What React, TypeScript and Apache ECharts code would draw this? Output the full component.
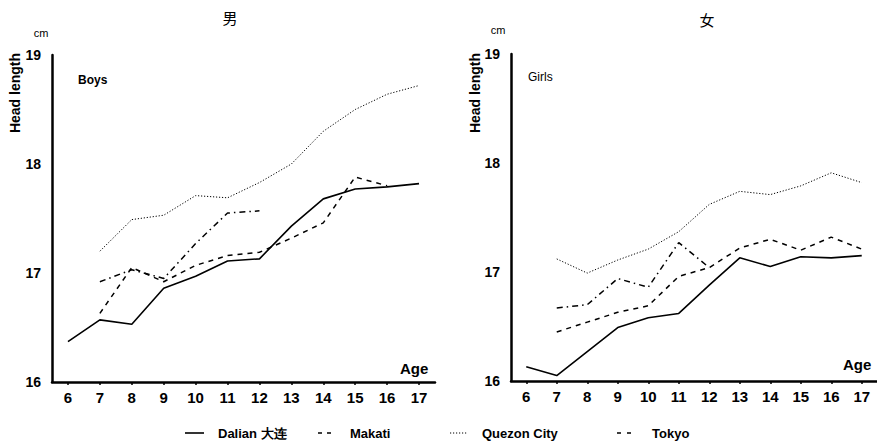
import React, { useEffect, useRef } from "react";
import * as echarts from "echarts";

const ages = ["6", "7", "8", "9", "10", "11", "12", "13", "14", "15", "16", "17"];
const yTicks = [16, 17, 18, 19];

// Boys
const boysDalian = [16.37, 16.57, 16.53, 16.86, 16.97, 17.11, 17.13, 17.43, 17.68, 17.77, 17.79, 17.82];
const boysMakati = [null, 16.92, 17.03, 16.95, 17.27, 17.55, 17.57, null, null, null, null, null];
const boysQuezon = [null, 17.2, 17.49, 17.53, 17.71, 17.69, 17.83, 18.0, 18.3, 18.5, 18.64, 18.72];
const boysTokyo = [null, 16.63, 17.05, 16.92, 17.07, 17.16, 17.19, 17.32, 17.46, 17.88, 17.8, null];

// Girls
const girlsDalian = [16.13, 16.05, 16.27, 16.49, 16.58, 16.62, 16.88, 17.13, 17.05, 17.14, 17.13, 17.15];
const girlsMakati = [null, 16.67, 16.7, 16.94, 16.86, 17.27, 17.04, null, null, null, null, null];
const girlsQuezon = [null, 17.12, 16.99, 17.11, 17.21, 17.37, 17.62, 17.74, 17.71, 17.79, 17.91, 17.82];
const girlsTokyo = [null, 16.45, 16.54, 16.63, 16.69, 16.96, 17.04, 17.22, 17.3, 17.2, 17.32, 17.21];

const seriesNames = ["Dalian 大连", "Makati", "Quezon City", "Tokyo"];

const FONT = "'Liberation Sans', Arial, sans-serif";
const CJK = "'Noto Sans CJK SC', sans-serif";

const styles: any[] = [
  { type: "solid", width: 1.6 },
  { type: [6, 4, 1.5, 4], width: 1.5 },
  { type: [1.2, 1.8], width: 1 },
  { type: [5, 5], width: 1.5 },
];

export default function App() {
  const ref = useRef<HTMLDivElement>(null);
  useEffect(() => {
    document.body.style.margin = "0";
    const chart = echarts.init(ref.current!, undefined, { renderer: "svg" });
    const grids = [
      { left: 52, top: 55, width: 383, height: 327 },
      { left: 511, top: 54, width: 366, height: 327 },
    ];
    const xAxis = grids.map((_, i) => ({
      type: "category",
      gridIndex: i,
      data: ages,
      boundaryGap: true,
      axisLine: { lineStyle: { color: "#000", width: 2.5 } },
      axisTick: { show: true, alignWithLabel: true, length: 3, lineStyle: { color: "#000", width: 1.5 } },
      axisLabel: { color: "#000", fontFamily: FONT, fontWeight: "bold", fontSize: 15, margin: 8 },
      splitLine: { show: false },
    }));
    const yAxis = grids.map((_, i) => ({
      type: "value",
      gridIndex: i,
      min: 16,
      max: 19,
      interval: 1,
      axisLine: { show: true, lineStyle: { color: "#000", width: 2.5 } },
      axisTick: { show: false },
      axisLabel: {
        color: "#000",
        fontFamily: FONT,
        fontWeight: "bold",
        fontSize: 14,
        margin: 11,
        formatter: (v: number) => (yTicks.includes(v) ? String(v) : ""),
      },
      splitLine: { show: false },
    }));
    const data = [
      [boysDalian, boysMakati, boysQuezon, boysTokyo],
      [girlsDalian, girlsMakati, girlsQuezon, girlsTokyo],
    ];
    const series: any[] = [];
    data.forEach((set, gi) => {
      set.forEach((d, si) => {
        series.push({
          type: "line",
          name: seriesNames[si],
          xAxisIndex: gi,
          yAxisIndex: gi,
          data: d,
          showSymbol: false,
          symbol: "none",
          connectNulls: false,
          lineStyle: { color: "#000", ...styles[si] },
        });
      });
    });

    const txt = (x: number, y: number, text: string, o: any = {}) => ({
      type: "text",
      x,
      y,
      style: {
        text,
        fill: "#000",
        fontFamily: FONT,
        fontSize: 13,
        textAlign: "left",
        textVerticalAlign: "middle",
        ...o,
      },
    });

    const legendY = 433;
    const graphic: any[] = [
      txt(230, 17, "男", { fontFamily: CJK, fontSize: 15, textAlign: "center" }),
      txt(707, 19, "女", { fontFamily: CJK, fontSize: 15, textAlign: "center" }),
      txt(41, 33, "cm", { fontSize: 11, textAlign: "center" }),
      txt(498, 30, "cm", { fontSize: 11, textAlign: "center" }),
      {
        type: "text",
        x: 15,
        y: 93,
        rotation: Math.PI / 2,
        style: { text: "Head length", fill: "#000", fontFamily: FONT, fontSize: 14, fontWeight: "bold", textAlign: "center", textVerticalAlign: "middle" },
      },
      {
        type: "text",
        x: 475,
        y: 93,
        rotation: Math.PI / 2,
        style: { text: "Head length", fill: "#000", fontFamily: FONT, fontSize: 14, fontWeight: "bold", textAlign: "center", textVerticalAlign: "middle" },
      },
      txt(78, 80, "Boys", { fontSize: 12, fontWeight: "bold" }),
      txt(528, 77, "Girls", { fontSize: 12 }),
      txt(400, 368, "Age", { fontSize: 15, fontWeight: "bold" }),
      txt(843, 364, "Age", { fontSize: 15, fontWeight: "bold" }),
      // legend
      { type: "line", shape: { x1: 185, y1: legendY, x2: 204, y2: legendY }, style: { stroke: "#000", lineWidth: 1.6 } },
      txt(218, legendY, seriesNames[0], { fontWeight: "bold" }),
      { type: "line", shape: { x1: 318, y1: legendY, x2: 334, y2: legendY }, style: { stroke: "#000", lineWidth: 1.5, lineDash: [4, 5] } },
      txt(350, legendY, seriesNames[1], { fontWeight: "bold" }),
      { type: "line", shape: { x1: 450, y1: legendY, x2: 468, y2: legendY }, style: { stroke: "#000", lineWidth: 1, lineDash: [1.2, 1.8] } },
      txt(482, legendY, seriesNames[2], { fontWeight: "bold" }),
      { type: "line", shape: { x1: 617, y1: legendY, x2: 633, y2: legendY }, style: { stroke: "#000", lineWidth: 1.5, lineDash: [4, 6] } },
      txt(652, legendY, seriesNames[3], { fontWeight: "bold" }),
    ];

    chart.setOption({
      animation: false,
      backgroundColor: "#fff",
      grid: grids,
      xAxis,
      yAxis,
      series,
      graphic,
    });
    return () => chart.dispose();
  }, []);
  return <div ref={ref} style={{ width: 877, height: 447 }} />;
}
